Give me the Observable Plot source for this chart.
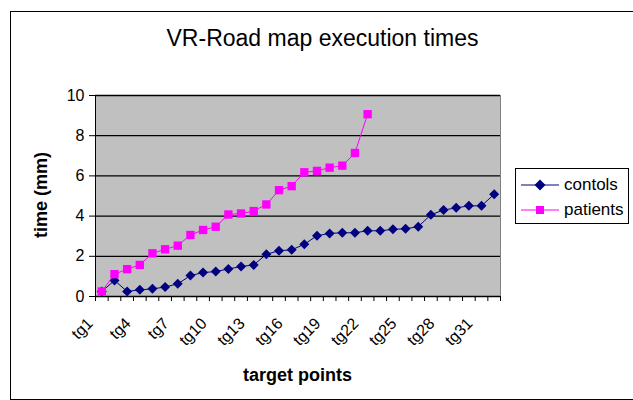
<!DOCTYPE html>
<html><head><meta charset="utf-8">
<script src="https://cdn.jsdelivr.net/npm/d3@7"></script>
<script src="https://cdn.jsdelivr.net/npm/@observablehq/plot@0.6"></script>
<style>
body{margin:0;background:#fff;font-family:Arial,"Liberation Sans",sans-serif;}
#wrap{position:relative;width:633px;height:400px;overflow:hidden;background:#fff;}
#border{position:absolute;left:10px;top:11px;width:700px;height:387px;border:1px solid #000;}
#chart{position:absolute;left:0;top:0;}
#title{position:absolute;left:0;width:645px;top:27px;text-align:center;font-size:23px;line-height:23px;color:#000;}
#xtitle{position:absolute;left:0;width:595px;top:366px;text-align:center;font-size:18px;line-height:18px;font-weight:bold;color:#000;}
#ytitle{position:absolute;left:41px;top:195px;transform:translate(-50%,-50%) rotate(-90deg);font-size:18px;line-height:18px;font-weight:bold;white-space:nowrap;color:#000;}
#legend{position:absolute;left:515px;top:168px;width:114px;height:56px;border:1px solid #000;background:#fff;box-sizing:border-box;}
.row{position:absolute;left:5px;height:20px;display:flex;align-items:center;font-size:17px;}
.row svg{margin-right:5px;}
</style>
</head><body>
<div id="wrap">
  <div id="border"></div>
  <div id="chart"></div>
  <div id="title">VR-Road map execution times</div>
  <div id="xtitle">target points</div>
  <div id="ytitle">time (mm)</div>
  <div id="legend"></div>
</div>
<script>
const categories = ["tg1","tg2","tg3","tg4","tg5","tg6","tg7","tg8","tg9","tg10","tg11","tg12","tg13","tg14","tg15","tg16","tg17","tg18","tg19","tg20","tg21","tg22","tg23","tg24","tg25","tg26","tg27","tg28","tg29","tg30","tg31","tg32"];
const controls = [0.25, 0.8, 0.25, 0.33, 0.38, 0.47, 0.63, 1.04, 1.19, 1.24, 1.37, 1.49, 1.57, 2.10, 2.28, 2.32, 2.60, 3.02, 3.14, 3.17, 3.17, 3.27, 3.27, 3.34, 3.37, 3.47, 4.07, 4.30, 4.41, 4.51, 4.51, 5.09];
const patients = [0.25, 1.11, 1.36, 1.57, 2.15, 2.35, 2.53, 3.06, 3.31, 3.47, 4.08, 4.13, 4.25, 4.58, 5.29, 5.49, 6.18, 6.25, 6.41, 6.51, 7.14, 9.07];
const tickLabels = ["tg1","tg4","tg7","tg10","tg13","tg16","tg19","tg22","tg25","tg28","tg31"];
const yTicks = [0, 2, 4, 6, 8, 10];
const seriesNames = ["contols", "patients"];
const seriesColors = ["#000080", "#ff00ff"];

const n = categories.length;
const cData = controls.map((v, i) => ({i: i + 1, cat: categories[i], v}));
const pData = patients.map((v, i) => ({i: i + 1, cat: categories[i], v}));
const boundaries = d3.range(0, n + 1).map(k => k + 0.5);

const chart = Plot.plot({
  width: 633, height: 400,
  marginLeft: 95, marginRight: 133, marginTop: 95, marginBottom: 104,
  style: {background: "transparent", fontFamily: "Arial, 'Liberation Sans', sans-serif", color: "#000"},
  x: {type: "linear", domain: [0.5, n + 0.5]},
  y: {domain: [0, 10]},
  marks: [
    Plot.frame({fill: "#c0c0c0", stroke: "#808080"}),
    Plot.gridY(yTicks, {stroke: "#000", strokeOpacity: 1, strokeWidth: 1.3}),
    Plot.axisY(yTicks, {tickSize: 6, tickPadding: 5, fontSize: 16, label: null, stroke: "#000"}),
    Plot.axisX(boundaries, {tickSize: 5, tickFormat: () => "", label: null, stroke: "#000"}),
    Plot.ruleX([0.5], {stroke: "#000"}),
    Plot.ruleY([0], {stroke: "#000"}),
    Plot.text(tickLabels, {x: d => categories.indexOf(d) + 1, frameAnchor: "bottom", rotate: -45, textAnchor: "end", dx: -8, dy: 28, fontSize: 16, fill: "#000"}),
    Plot.line(cData, {x: "i", y: "v", stroke: seriesColors[0], strokeWidth: 1}),
    Plot.dot(cData, {x: "i", y: "v", symbol: "diamond2", fill: seriesColors[0], r: 4.5}),
    Plot.line(pData, {x: "i", y: "v", stroke: seriesColors[1], strokeWidth: 1}),
    Plot.dot(pData, {x: "i", y: "v", symbol: "square", fill: seriesColors[1], r: 4.7})
  ]
});
document.getElementById("chart").appendChild(chart);

// legend
const legend = document.getElementById("legend");
seriesNames.forEach((name, k) => {
  const row = document.createElement("div");
  row.className = "row";
  row.style.top = (6 + k * 25) + "px";
  const marker = k === 0
    ? `<path d="M19,1.5 L24.5,7 L19,12.5 L13.5,7 Z" fill="${seriesColors[k]}"/>`
    : `<rect x="15" y="3" width="8" height="8" fill="${seriesColors[k]}"/>`;
  row.innerHTML = `<svg width="38" height="14"><line x1="0" y1="7" x2="38" y2="7" stroke="${seriesColors[k]}" stroke-width="1"/>${marker}</svg><span>${name}</span>`;
  legend.appendChild(row);
});
</script>
</body></html>
